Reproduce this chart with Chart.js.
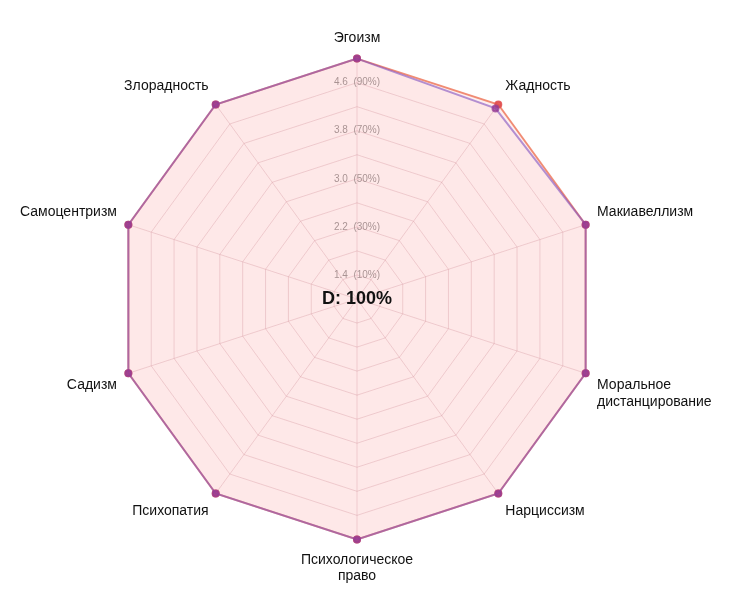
<!DOCTYPE html>
<html><head><meta charset="utf-8">
<script src="https://cdn.jsdelivr.net/npm/chart.js@4"></script>
<style>body{margin:0;background:#fff}#w{width:744px;height:604px}</style>
</head><body><div id="w"><canvas id="c"></canvas></div>
<script>
const labels=["Эгоизм","Жадность","Макиавеллизм",["Моральное","дистанцирование"],"Нарциссизм",["Психологическое","право"],"Психопатия","Садизм","Самоцентризм","Злорадность"];
const seriesA=[5,5,5,5,5,5,5,5,5,5];
const seriesB=[5,4.92,5,5,5,5,5,5,5,5];
const tickLabels={"1.4":"1.4  (10%)","2.2":"2.2  (30%)","3.0":"3.0  (50%)","3.8":"3.8  (70%)","4.6":"4.6  (90%)"};
const centerText="D: 100%";
const centerPlugin={id:'ct',afterDraw(ch){const s=ch.scales.r,c=ch.ctx;c.save();c.font='bold 18px Helvetica, Arial, sans-serif';c.fillStyle='#111';c.textAlign='center';c.textBaseline='middle';c.fillText(centerText,s.xCenter,s.yCenter);c.restore();}};
new Chart(document.getElementById('c'),{type:'radar',data:{labels,datasets:[
{data:seriesB,order:0,borderColor:'rgba(130,80,190,0.6)',backgroundColor:'rgba(250,120,120,0.06)',borderWidth:2,pointBackgroundColor:'rgba(150,60,150,0.75)',pointBorderColor:'rgba(150,60,150,0.75)',pointRadius:3},
{data:seriesA,order:1,borderColor:'rgba(240,120,90,0.8)',backgroundColor:'rgba(250,120,120,0.12)',borderWidth:2,pointBackgroundColor:'rgba(225,80,80,0.9)',pointBorderColor:'rgba(225,80,80,0.9)',pointRadius:3}
]},options:{responsive:true,maintainAspectRatio:false,animation:false,
layout:{padding:{top:22,bottom:10,left:2,right:12}},
plugins:{legend:{display:false},tooltip:{enabled:false}},
scales:{r:{min:1,max:5,ticks:{stepSize:0.4,showLabelBackdrop:false,color:'#999',font:{size:10},callback:v=>tickLabels[v.toFixed(1)]||''},
grid:{color:'rgba(200,150,160,0.35)'},angleLines:{color:'rgba(200,150,160,0.35)'},
pointLabels:{color:'#111',font:{size:14,family:'Helvetica, Arial, sans-serif'}}}}},plugins:[centerPlugin]});
</script></body></html>
